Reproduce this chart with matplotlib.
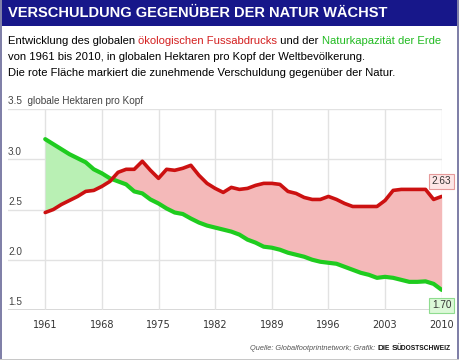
import matplotlib
matplotlib.use("Agg")
import matplotlib.pyplot as plt
from matplotlib.patches import Rectangle

years = list(range(1961, 2011))
footprint = [2.47, 2.50, 2.55, 2.59, 2.63, 2.68, 2.69, 2.73, 2.78, 2.87,
             2.90, 2.90, 2.98, 2.89, 2.81, 2.90, 2.89, 2.91, 2.94, 2.84,
             2.76, 2.71, 2.67, 2.72, 2.70, 2.71, 2.74, 2.76, 2.76, 2.75,
             2.68, 2.66, 2.62, 2.60, 2.60, 2.63, 2.60, 2.56, 2.53, 2.53,
             2.53, 2.53, 2.59, 2.69, 2.70, 2.70, 2.70, 2.70, 2.60, 2.63]
biocap = [3.20, 3.15, 3.10, 3.05, 3.01, 2.97, 2.90, 2.86, 2.81, 2.78,
          2.75, 2.68, 2.66, 2.60, 2.56, 2.51, 2.47, 2.455, 2.41, 2.37,
          2.34, 2.32, 2.30, 2.28, 2.25, 2.20, 2.17, 2.13, 2.12, 2.10,
          2.07, 2.05, 2.03, 2.00, 1.98, 1.97, 1.96, 1.93, 1.90, 1.87,
          1.85, 1.82, 1.83, 1.82, 1.80, 1.78, 1.78, 1.785, 1.76, 1.70]
xticks = [1961, 1968, 1975, 1982, 1989, 1996, 2003, 2010]
yticks = [1.5, 2.0, 2.5, 3.0, 3.5]
ytick_labels = ["1.5", "2.0", "2.5", "3.0", "3.5  globale Hektaren pro Kopf"]

W, H = 460, 360
fig = plt.figure(figsize=(W / 100, H / 100), dpi=100)
fig.patch.set_facecolor("white")

SANS = ["Liberation Sans", "DejaVu Sans"]

def fx(px):
    return px / W

def fy(py):
    return 1 - py / H

# frame
fig.patches.append(Rectangle((0, fy(26)), 1, fy(0) - fy(26), transform=fig.transFigure,
                             facecolor="#17178a", edgecolor="none", zorder=0))
fig.patches.append(Rectangle((0, 0), fx(2), 1, transform=fig.transFigure,
                             facecolor="#8080a8", edgecolor="none", zorder=0))
fig.patches.append(Rectangle((1 - fx(3), 0), fx(3), 1, transform=fig.transFigure,
                             facecolor="#8080a8", edgecolor="none", zorder=0))
fig.patches.append(Rectangle((0, 0), 1, 1.5 / H, transform=fig.transFigure,
                             facecolor="#c8c8c8", edgecolor="none", zorder=0))

fig.text(fx(8), fy(13), "VERSCHULDUNG GEGENÜBER DER NATUR WÄCHST", color="white",
         fontsize=10.5, fontweight="bold", family=SANS, va="center", ha="left")

renderer = fig.canvas.get_renderer()

def seq(x, y, pieces, ha="left"):
    texts = []
    widths = []
    for s, kw in pieces:
        t = fig.text(0, fy(y), s, va="center", ha="left", **kw)
        w = t.get_window_extent(renderer).width
        texts.append(t)
        widths.append(w)
    total = sum(widths)
    cur = x if ha == "left" else x - total
    for t, w in zip(texts, widths):
        t.set_x(fx(cur))
        cur += w

sub = dict(fontsize=8.1, family=SANS, color="#000000")
seq(8, 41, [("Entwicklung des globalen ", sub),
            ("ökologischen Fussabdrucks", dict(sub, color="#d42020")),
            (" und der ", sub),
            ("Naturkapazität der Erde", dict(sub, color="#22bb22"))])
fig.text(fx(8), fy(57), "von 1961 bis 2010, in globalen Hektaren pro Kopf der Weltbevölkerung.",
         va="center", ha="left", **sub)
fig.text(fx(8), fy(73), "Die rote Fläche markiert die zunehmende Verschuldung gegenüber der Natur.",
         va="center", ha="left", **sub)

src = dict(fontsize=5.3, family=SANS, color="#555555", style="italic")
big = dict(fontsize=6.0, family=SANS, color="#111111", fontweight="bold")
small = dict(fontsize=4.8, family=SANS, color="#111111", fontweight="bold")
seq(451, 348, [("Quelle: Globalfootprintnetwork; Grafik: ", src),
               ("D", big), ("IE ", small), ("S", big), ("ÜDOSTSCHWEIZ", small)], ha="right")

# axes
x0, x1 = 8, 441.7
ax = fig.add_axes([fx(x0), fy(310), fx(x1 - x0), fy(109) - fy(310)])
ax.set_xlim(1956.4, 2010)
ax.set_ylim(1.5, 3.5)
for s in ax.spines.values():
    s.set_visible(False)
ax.set_facecolor("none")

ax.set_yticks(yticks)
ax.set_xticks(xticks)
ax.grid(True, color="#e2e2e2", lw=1, zorder=0)
ax.tick_params(axis="y", length=0, labelleft=False)
ax.tick_params(axis="x", length=0, pad=7, labelsize=7, labelcolor="#333333")
ax.axhline(1.5, color="#cfcfcf", lw=1.2, zorder=1)

for v, lab in zip(yticks, ytick_labels):
    ax.text(0.0, v + 0.025, lab, transform=ax.get_yaxis_transform(), ha="left", va="bottom",
            fontsize=7.2, family=SANS, color="#444444")

ax.fill_between(years, footprint, biocap, where=[f >= b for f, b in zip(footprint, biocap)],
                interpolate=True, color="#f4b9b9", lw=0, zorder=2)
ax.fill_between(years, footprint, biocap, where=[f <= b for f, b in zip(footprint, biocap)],
                interpolate=True, color="#b9f0b4", lw=0, zorder=2)
ax.plot(years, biocap, color="#1fcc1f", lw=3, solid_capstyle="round", solid_joinstyle="round", zorder=4)
ax.plot(years, footprint, color="#cc1111", lw=2.6, solid_capstyle="round", solid_joinstyle="round", zorder=5)

ax.annotate(f"{footprint[-1]:.2f}", xy=(years[-1], footprint[-1]), xytext=(0, 11),
            textcoords="offset points", ha="center", va="center", fontsize=7.2, family=SANS,
            color="#333333", annotation_clip=False, zorder=6,
            bbox=dict(boxstyle="square,pad=0.25", fc="#fde6e6", ec="#e69a9a", lw=0.8))
ax.annotate(f"{biocap[-1]:.2f}", xy=(years[-1], biocap[-1]), xytext=(0, -11),
            textcoords="offset points", ha="center", va="center", fontsize=7.2, family=SANS,
            color="#333333", annotation_clip=False, zorder=6,
            bbox=dict(boxstyle="square,pad=0.25", fc="#dcf8d8", ec="#8fdc8f", lw=0.8))

fig.savefig("out.png", dpi=100, facecolor="white")
